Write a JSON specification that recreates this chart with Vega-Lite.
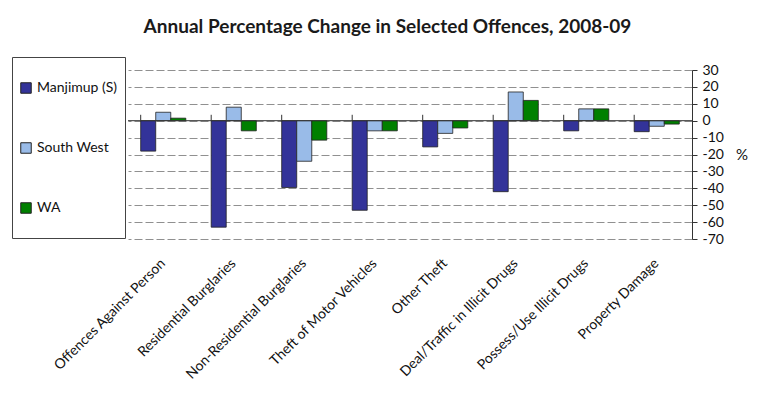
{
  "$schema": "https://vega.github.io/schema/vega-lite/v6.json",
  "width": 564,
  "height": 169,
  "autosize": "none",
  "padding": {"left": 128, "top": 70, "right": 71, "bottom": 164},
  "background": "white",
  "config": {"font": "Lato", "view": {"stroke": null}},
  "title": {
    "text": "Annual Percentage Change in Selected Offences, 2008-09",
    "fontSize": 19,
    "fontWeight": "bold",
    "color": "#1a1a1a",
    "anchor": "middle",
    "frame": "bounds",
    "offset": 20,
    "dx": 8
  },
  "data": {
    "values": [
      {"category": "Offences Against Person", "region": "Manjimup (S)", "value": -18},
      {"category": "Offences Against Person", "region": "South West", "value": 5},
      {"category": "Offences Against Person", "region": "WA", "value": 1.5},
      {"category": "Residential Burglaries", "region": "Manjimup (S)", "value": -63},
      {"category": "Residential Burglaries", "region": "South West", "value": 8},
      {"category": "Residential Burglaries", "region": "WA", "value": -6},
      {"category": "Non-Residential Burglaries", "region": "Manjimup (S)", "value": -39.5},
      {"category": "Non-Residential Burglaries", "region": "South West", "value": -24},
      {"category": "Non-Residential Burglaries", "region": "WA", "value": -11.5},
      {"category": "Theft of Motor Vehicles", "region": "Manjimup (S)", "value": -53},
      {"category": "Theft of Motor Vehicles", "region": "South West", "value": -6},
      {"category": "Theft of Motor Vehicles", "region": "WA", "value": -6},
      {"category": "Other Theft", "region": "Manjimup (S)", "value": -15.5},
      {"category": "Other Theft", "region": "South West", "value": -7.5},
      {"category": "Other Theft", "region": "WA", "value": -4.3},
      {"category": "Deal/Traffic in Illicit Drugs", "region": "Manjimup (S)", "value": -42},
      {"category": "Deal/Traffic in Illicit Drugs", "region": "South West", "value": 17},
      {"category": "Deal/Traffic in Illicit Drugs", "region": "WA", "value": 12},
      {"category": "Possess/Use Illicit Drugs", "region": "Manjimup (S)", "value": -6},
      {"category": "Possess/Use Illicit Drugs", "region": "South West", "value": 7},
      {"category": "Possess/Use Illicit Drugs", "region": "WA", "value": 7},
      {"category": "Property Damage", "region": "Manjimup (S)", "value": -6.5},
      {"category": "Property Damage", "region": "South West", "value": -3.3},
      {"category": "Property Damage", "region": "WA", "value": -2}
    ]
  },
  "layer": [
    {
      "mark": {"type": "bar", "stroke": "#222", "strokeWidth": 0.8},
      "encoding": {
        "x": {
          "field": "category",
          "type": "nominal",
          "sort": null,
          "scale": {"paddingInner": 0.36, "paddingOuter": 0.18},
          "axis": {
            "title": null,
            "labelAngle": -45,
            "labelAlign": "right",
            "labelBaseline": "middle",
            "domain": false,
            "ticks": false,
            "grid": false,
            "labelFontSize": 14,
            "labelPadding": 22,
            "labelColor": "#111",
            "labelLimit": 300
          }
        },
        "xOffset": {
          "field": "region",
          "type": "nominal",
          "sort": ["Manjimup (S)", "South West", "WA"]
        },
        "y": {
          "field": "value",
          "type": "quantitative",
          "scale": {"domain": [-70, 30], "nice": false},
          "axis": {
            "orient": "right",
            "values": [-70, -60, -50, -40, -30, -20, -10, 0, 10, 20, 30],
            "tickCount": 11,
            "labelExpr": "'' + datum.value",
            "labelOverlap": false,
            "grid": true,
            "gridDash": [8, 3],
            "gridColor": "#909090",
            "domainColor": "#333",
            "tickColor": "#333",
            "tickSize": 5,
            "labelFontSize": 14,
            "labelColor": "#111",
            "labelPadding": 5,
            "title": "%",
            "titleAngle": 0,
            "titleAlign": "left",
            "titleBaseline": "middle",
            "titleFontSize": 15,
            "titleFontWeight": "normal",
            "titleColor": "#111",
            "titlePadding": 12
          }
        },
        "color": {
          "field": "region",
          "type": "nominal",
          "scale": {
            "domain": ["Manjimup (S)", "South West", "WA"],
            "range": ["#333399", "#99bbe8", "#008000"]
          },
          "legend": {
            "orient": "none",
            "legendX": -116,
            "legendY": -13,
            "title": " ",
            "titleFontSize": 11,
            "titlePadding": 6,
            "strokeColor": "#444",
            "padding": 7,
            "rowPadding": 29,
            "symbolType": "square",
            "symbolSize": 110,
            "symbolStrokeColor": "#222",
            "symbolStrokeWidth": 1,
            "symbolOpacity": 1,
            "labelFontSize": 14,
            "labelColor": "#111",
            "labelExpr": "[datum.label, '']"
          }
        }
      }
    },
    {
      "transform": [{"filter": "datum.region == 'WA'"}],
      "mark": {"type": "rule", "color": "#333", "strokeWidth": 1},
      "encoding": {
        "x": {"field": "category", "type": "nominal", "sort": null, "bandPosition": 0},
        "y": {"datum": 0},
        "y2": {"datum": 3.5}
      }
    },
    {
      "data": {"values": [{"zero": 0}]},
      "mark": {"type": "rule", "color": "#333", "strokeWidth": 1},
      "encoding": {
        "y": {"field": "zero", "type": "quantitative"}
      }
    }
  ]
}
